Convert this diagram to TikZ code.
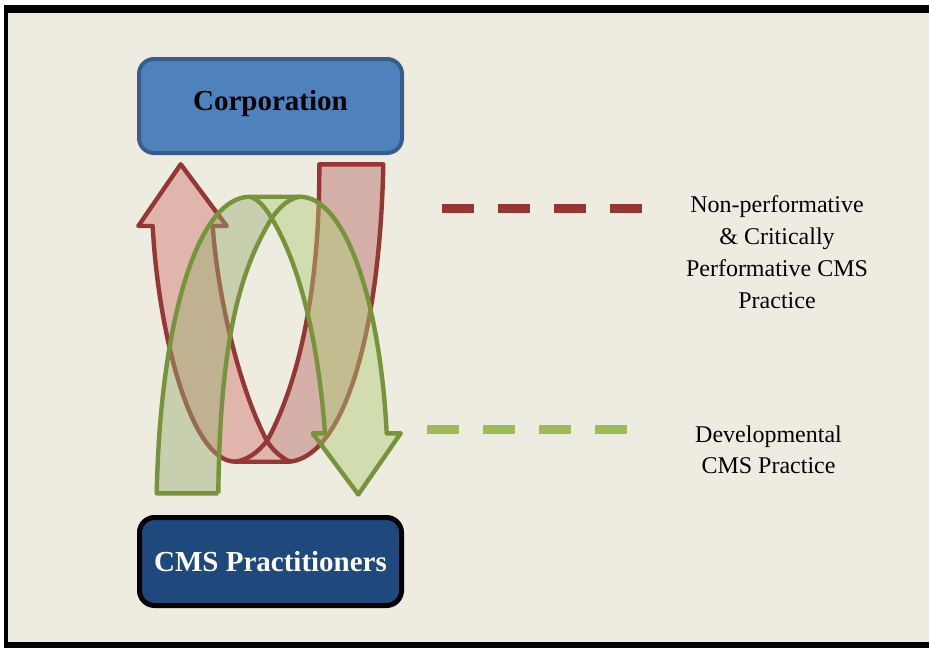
\documentclass[tikz,border=0pt]{standalone}
\usepackage{fontspec}
\setmainfont{Liberation Serif}
\definecolor{paper}{HTML}{EEECE1}
\definecolor{rib-red}{HTML}{953735}
\definecolor{rib-green}{HTML}{77933C}
\definecolor{red-front}{HTML}{E0B6AC}
\definecolor{red-back}{HTML}{D4B0A8}
\definecolor{green-front}{RGB}{174,203,116}
\definecolor{green-back}{RGB}{154,172,112}
\definecolor{dash-red}{HTML}{953735}
\definecolor{dash-green}{HTML}{9BBB59}
\definecolor{corp-fill}{HTML}{4F81BD}
\definecolor{corp-line}{HTML}{385D8A}
\definecolor{cms-fill}{HTML}{1F497D}
\begin{document}
\begin{tikzpicture}[x = 1pt, y = -1pt]
    \tikzset{
        box/.style = {
            rounded corners = 15pt, inner sep = 0pt,
            minimum width = 262pt, minimum height = 89pt,
            font = \fontsize{29}{34}\selectfont\bfseries},
        ribbon-line/.style = {line width = 4.4pt, line join = round},
        legend-dash/.style = {line width = 9pt, dash pattern = on 32pt off 24pt},
        legend-text/.style = {align = center, font = \fontsize{24}{31.7}\selectfont}
    }

    \useasboundingbox (0, 0) rectangle (929, 648);
    \fill[black] (4, 5) rectangle (929, 648);
    \fill[paper] (8, 12.5) rectangle (929, 642);

    \fill[red-front]
        (152.7, 226) -- (138.3, 226) -- (180.7, 164.3) -- (226.7, 226) -- (212.7, 226)
        .. controls (218, 300) and (240, 390) .. (267, 441)
        .. controls (272, 449) and (280, 457) .. (290, 461.7)
        -- (235, 461.7)
        .. controls (190, 461) and (158, 330) .. (152.7, 226) -- cycle;
    \fill[red-back]
        (319.3, 164.3) -- (383.3, 164.3)
        .. controls (380, 330) and (345, 455) .. (290, 461.7)
        .. controls (280, 457) and (272, 449) .. (267, 441)
        .. controls (295, 390) and (320, 300) .. (319.3, 164.3) -- cycle;
    \draw[ribbon-line, rib-red]
        (152.7, 226) -- (138.3, 226) -- (180.7, 164.3) -- (226.7, 226) -- (212.7, 226)
        .. controls (218, 300) and (240, 390) .. (267, 441)
        .. controls (272, 449) and (280, 457) .. (290, 461.7)
        -- (235, 461.7)
        .. controls (190, 461) and (158, 330) .. (152.7, 226) -- cycle;
    \draw[ribbon-line, rib-red]
        (235, 461.7) .. controls (248, 460) and (258, 452) .. (267, 441)
        .. controls (295, 390) and (320, 300) .. (319.3, 164.3)
        -- (383.3, 164.3)
        .. controls (380, 330) and (345, 455) .. (290, 461.7);

    \fill[green-back, fill opacity = 0.45]
        (156.7, 493.3) .. controls (160, 330) and (195, 197) .. (250, 196.7)
        .. controls (258, 199) and (265, 207) .. (271.7, 218.3)
        .. controls (240, 270) and (220, 340) .. (218.3, 493.3) -- cycle;
    \fill[green-front, fill opacity = 0.45]
        (250, 196.7) -- (300, 196.7)
        .. controls (345, 197) and (380, 300) .. (386.7, 433.3)
        -- (400.7, 433.3) -- (358.3, 494.5) -- (312.7, 433.3) -- (325, 433.3)
        .. controls (318, 340) and (300, 265) .. (271.7, 218.3)
        .. controls (265, 207) and (258, 199) .. (250, 196.7) -- cycle;
    \draw[ribbon-line, rib-green]
        (218.3, 493.3) -- (156.7, 493.3)
        .. controls (160, 330) and (195, 197) .. (250, 196.7) -- (300, 196.7)
        .. controls (345, 197) and (380, 300) .. (386.7, 433.3)
        -- (400.7, 433.3) -- (358.3, 494.5) -- (312.7, 433.3) -- (325, 433.3)
        .. controls (318, 340) and (300, 265) .. (271.7, 218.3)
        .. controls (265, 207) and (258, 199) .. (250, 196.7);
    \draw[ribbon-line, rib-green]
        (218.3, 493.3) .. controls (220, 340) and (240, 270) .. (271.7, 218.3)
        .. controls (280, 206) and (290, 198) .. (300, 196.7);

    \node[box, draw = corp-line, line width = 4pt, fill = corp-fill, text depth = 12pt,
        minimum width = 263pt, minimum height = 94pt] (corp) at (270.5, 106) {Corporation};
    \node[box, draw = black, line width = 5pt, fill = cms-fill, text = white,
        minimum height = 88pt] (cms) at (270.5, 561.5) {CMS Practitioners};

    \coordinate (red-start) at (442, 208);
    \coordinate (red-end) at (642, 208);
    \draw[legend-dash, dash-red] (red-start) -- (red-end);
    \node[legend-text, anchor = base] (nonperf) at (777, 308)
        {Non-performative\\ \& Critically\\ Performative CMS\\ Practice};

    \coordinate (green-start) at (427, 429);
    \coordinate (green-end) at (628, 429);
    \draw[legend-dash, dash-green] (green-start) -- (green-end);
    \node[legend-text, anchor = base] (devel) at (768.5, 473.7)
        {Developmental\\ CMS Practice};
\end{tikzpicture}
\end{document}
